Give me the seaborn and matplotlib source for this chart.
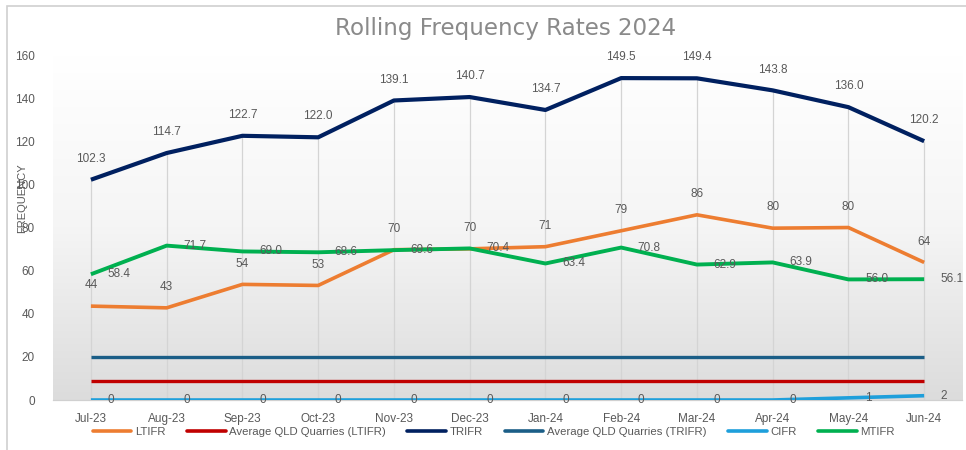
import numpy as np
import pandas as pd
import matplotlib
matplotlib.use("Agg")
import matplotlib.pyplot as plt
import seaborn as sns
from matplotlib.colors import LinearSegmentedColormap
from matplotlib.lines import Line2D
from matplotlib.patches import Rectangle

months = ["Jul-23", "Aug-23", "Sep-23", "Oct-23", "Nov-23", "Dec-23",
          "Jan-24", "Feb-24", "Mar-24", "Apr-24", "May-24", "Jun-24"]
ltifr = [43.6, 42.8, 53.7, 53.2, 69.8, 70.2, 71.2, 78.6, 86.0, 79.8, 80.1, 63.9]
avg_ltifr = [8.8] * 12
trifr = [102.3, 114.7, 122.7, 122.0, 139.1, 140.7, 134.7, 149.5, 149.4, 143.8, 136.0, 120.2]
avg_trifr = [19.9] * 12
cifr = [0, 0, 0, 0, 0, 0, 0, 0, 0, 0, 1, 2]
mtifr = [58.4, 71.7, 69.0, 68.6, 69.6, 70.4, 63.4, 70.8, 62.9, 63.9, 56.0, 56.1]

series_names = ["LTIFR", "Average QLD Quarries (LTIFR)", "TRIFR",
                "Average QLD Quarries (TRIFR)", "CIFR", "MTIFR"]
series_vals = [ltifr, avg_ltifr, trifr, avg_trifr, cifr, mtifr]
colors = ["#ED7D31", "#C00000", "#002060", "#1B5E87", "#1E9FDB", "#00B050"]
widths = [2.6, 2.4, 3.0, 2.4, 2.6, 2.8]

sns.set_theme(style="white")
plt.rcParams["font.family"] = ["Liberation Sans", "DejaVu Sans"]
TXT = "#595959"

fig = plt.figure(figsize=(9.66, 4.5), dpi=100)
ax = fig.add_axes([0.0549, 0.1111, 0.9410, 0.7656])

x = np.arange(len(months))

# gradient background
cmap = LinearSegmentedColormap.from_list("g", ["#dcdcdc", "#f5f5f5", "#ffffff"])
ax.imshow(np.linspace(0, 1, 256).reshape(-1, 1), extent=[-0.5, 11.5, 0, 160],
          aspect="auto", cmap=cmap, origin="lower", zorder=0)

# drop lines
ax.vlines(x, 0, trifr, color="#d4d4d4", lw=0.9, zorder=1)

handles = []
for name, vals, c, w in zip(series_names, series_vals, colors, widths):
    df = pd.DataFrame({"x": x, "y": vals})
    sns.lineplot(data=df, x="x", y="y", color=c, lw=w, ax=ax, zorder=3,
                 solid_capstyle="butt")
    handles.append(Line2D([], [], color=c, lw=2.6, solid_capstyle="round"))

fs = 8.5
# data labels
for i in x:
    ax.annotate(f"{trifr[i]:.1f}", (i, trifr[i]), xytext=(0, 15), textcoords="offset points",
                ha="center", va="center", fontsize=fs, color=TXT, zorder=5)
    ax.annotate(f"{ltifr[i]:.0f}", (i, ltifr[i]), xytext=(0, 15), textcoords="offset points",
                ha="center", va="center", fontsize=fs, color=TXT, zorder=5)
    ax.annotate(f"{mtifr[i]:.1f}", (i, mtifr[i]), xytext=(12, 0), textcoords="offset points",
                ha="left", va="center", fontsize=fs, color=TXT, zorder=5)
    ax.annotate(f"{cifr[i]:.0f}", (i, cifr[i]), xytext=(12, 0), textcoords="offset points",
                ha="left", va="center", fontsize=fs, color=TXT, zorder=5)

ax.set_xlim(-0.5, 11.5)
ax.set_ylim(0, 160)
ax.set_yticks(range(0, 161, 20))
ax.set_xticks(x)
ax.set_xticklabels(months)
ax.set_xticks(np.arange(-0.5, 12, 1), minor=True)
ax.tick_params(axis="x", which="major", length=0, pad=9, labelsize=fs, labelcolor=TXT)
ax.tick_params(axis="x", which="minor", length=4, width=0.8, color="#d0d0d0", direction="out")
ax.tick_params(axis="y", length=0, pad=13, labelsize=fs, labelcolor=TXT)
ax.set_xlabel("")
ax.set_ylabel("FREQUENCY", fontsize=8, color=TXT)
ax.yaxis.set_label_coords(-0.028, 0.585)

for s in ["top", "right", "left"]:
    ax.spines[s].set_visible(False)
ax.spines["bottom"].set_color("#d0d0d0")
ax.spines["bottom"].set_linewidth(0.9)
ax.spines["bottom"].set_zorder(2)
ax.grid(False)

fig.text(0.523, 0.937, "Rolling Frequency Rates 2024", ha="center", va="center",
         fontsize=16.6, color="#8a8a8a", family=["DejaVu Sans"])

fig.legend(handles, series_names, loc="center", bbox_to_anchor=(0.511, 0.04), ncol=6,
           frameon=False, fontsize=8.2, labelcolor=TXT, handlelength=3.4,
           handletextpad=0.3, columnspacing=1.9, borderaxespad=0)

fig.patches.append(Rectangle((7 / 966, -0.05), 1.05, 1 - 6 / 450 + 0.05,
                             transform=fig.transFigure, fill=False,
                             edgecolor="#d0d0d0", lw=1.2))

fig.savefig("out.png", dpi=100)
